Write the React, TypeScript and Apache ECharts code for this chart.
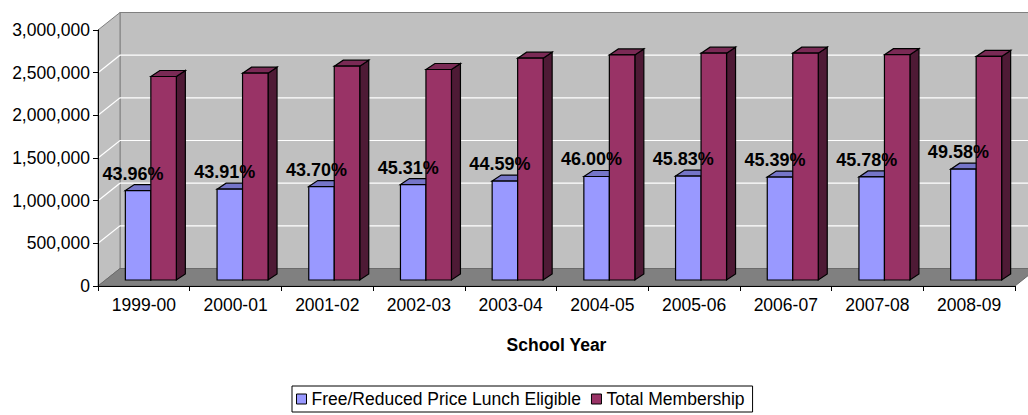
import React, { useEffect, useRef } from "react";
import * as echarts from "echarts";

const categories = ["1999-00", "2000-01", "2001-02", "2002-03", "2003-04", "2004-05", "2005-06", "2006-07", "2007-08", "2008-09"];
const totalMembership = [2385000, 2424000, 2506000, 2467000, 2600000, 2638000, 2658000, 2658000, 2640000, 2620000];
const freeReduced = [1048000, 1064000, 1095000, 1118000, 1159000, 1213000, 1218000, 1206000, 1208000, 1299000];
const pctLabels = ["43.96%", "43.91%", "43.70%", "45.31%", "44.59%", "46.00%", "45.83%", "45.39%", "45.78%", "49.58%"];
const yMin = 0;
const yMax = 3000000;
const yStep = 500000;
const gridValues = [500000, 1000000, 1500000, 2000000, 2500000];

const FONT = "'Liberation Sans', Arial, sans-serif";
const WX = 22; // wall depth
const WY = -17.5;
const OX = 7; // bar plane offset
const OY = -6;
const DX = 9; // bar depth
const DY = -6;
const BAR_RATIO = 0.278;

function barRenderer(kind: "free" | "total") {
  const front = kind === "free" ? "#9999ff" : "#993366";
  const topC = kind === "free" ? "#7575c8" : "#7a2a55";
  const sideC = kind === "free" ? "#5a5a99" : "#4e1a35";
  return (params: any, api: any) => {
    const i = api.value(0);
    const v = api.value(1);
    const base = api.coord([i, 0]);
    const top = api.coord([i, v]);
    const band = api.size([1, 0])[0];
    const bw = band * BAR_RATIO;
    const cx = base[0] + OX;
    const L = kind === "free" ? cx - bw : cx;
    const R = L + bw;
    const B = base[1] + OY;
    const T = top[1] + OY;
    const stroke = { stroke: "#000", lineWidth: 1.2 };
    return {
      type: "group",
      children: [
        {
          type: "polygon",
          shape: { points: [[R, T], [R + DX, T + DY], [R + DX, B + DY], [R, B]] },
          style: { fill: sideC, ...stroke },
        },
        {
          type: "polygon",
          shape: { points: [[L, T], [L + DX, T + DY], [R + DX, T + DY], [R, T]] },
          style: { fill: topC, ...stroke },
        },
        {
          type: "rect",
          shape: { x: L, y: T, width: bw, height: B - T },
          style: { fill: front, ...stroke },
        },
      ],
    };
  };
}

function labelRenderer(params: any, api: any) {
  const i = api.value(0);
  const v = api.value(1);
  const idx = api.value(2);
  const base = api.coord([i, 0]);
  const top = api.coord([i, v]);
  const band = api.size([1, 0])[0];
  const bw = band * BAR_RATIO;
  const cx = base[0] + OX - bw / 2;
  const T = top[1] + OY;
  return {
    type: "text",
    x: cx - 5,
    y: T - 8,
    style: {
      text: pctLabels[idx],
      fill: "#000",
      font: `bold 18px ${FONT}`,
      textAlign: "center",
      textVerticalAlign: "bottom",
    },
  };
}

function frameRenderer(params: any, api: any) {
  const cs = params.coordSys;
  const x0 = cs.x;
  const x1 = cs.x + cs.width;
  const yt = cs.y;
  const yb = cs.y + cs.height;
  const children: any[] = [];
  children.push({
    type: "polygon",
    shape: { points: [[x0 + WX, yt + WY], [x1 + WX, yt + WY], [x1 + WX, yb + WY], [x0 + WX, yb + WY]] },
    style: { fill: "#c0c0c0", stroke: "#808080", lineWidth: 1 },
  });
  children.push({
    type: "polygon",
    shape: { points: [[x0, yb], [x0, yt], [x0 + WX, yt + WY], [x0 + WX, yb + WY]] },
    style: { fill: "#c0c0c0", stroke: "#808080", lineWidth: 1 },
  });
  gridValues.forEach((v) => {
    const y = api.coord([0, v])[1];
    children.push({
      type: "polyline",
      shape: { points: [[x0, y], [x0 + WX, y + WY], [x1 + WX, y + WY]] },
      style: { stroke: "#ffffff", lineWidth: 1.2, fill: null },
    });
  });
  children.push({
    type: "polygon",
    shape: { points: [[x0, yb], [x0 + WX, yb + WY], [x1 + WX, yb + WY], [x1, yb]] },
    style: { fill: "#808080", stroke: "#6a6a6a", lineWidth: 1 },
  });
  return { type: "group", children };
}

export default function App() {
  const ref = useRef<HTMLDivElement>(null);
  useEffect(() => {
    if (!ref.current) return;
    const chart = echarts.init(ref.current, undefined, { renderer: "svg" });
    chart.setOption({
      animation: false,
      backgroundColor: "#ffffff",
      textStyle: { fontFamily: FONT },
      grid: { left: 98, right: 13, top: 30, bottom: 129 },
      legend: {
        left: 292,
        top: 386,
        orient: "horizontal",
        icon: "rect",
        itemWidth: 10,
        itemHeight: 10,
        itemGap: 10,
        padding: [4, 8, 4, 4],
        borderColor: "#000",
        borderWidth: 1,
        borderRadius: 0,
        textStyle: { fontSize: 17.5, color: "#000", fontFamily: FONT },
        data: [
          { name: "Free/Reduced Price Lunch Eligible", itemStyle: { color: "#9999ff", borderColor: "#000", borderWidth: 1 } },
          { name: "Total Membership", itemStyle: { color: "#993366", borderColor: "#000", borderWidth: 1 } },
        ],
      },
      xAxis: {
        type: "category",
        data: categories,
        z: 5,
        boundaryGap: true,
        axisLine: { show: true, lineStyle: { color: "#000", width: 1 } },
        axisTick: { show: true, length: 5, lineStyle: { color: "#000" } },
        axisLabel: { color: "#000", fontSize: 17.5, fontFamily: FONT, margin: 10 },
        name: "School Year",
        nameLocation: "middle",
        nameGap: 50,
        nameTextStyle: { color: "#000", fontSize: 17.5, fontWeight: "bold", fontFamily: FONT },
        splitLine: { show: false },
      },
      yAxis: {
        type: "value",
        min: yMin,
        max: yMax,
        interval: yStep,
        z: 5,
        axisLine: { show: true, lineStyle: { color: "#000", width: 1 } },
        axisTick: { show: true, length: 5, lineStyle: { color: "#000" } },
        axisLabel: {
          color: "#000",
          fontSize: 17.5,
          fontFamily: FONT,
          margin: 8,
          formatter: (v: number) => v.toLocaleString("en-US"),
        },
        splitLine: { show: false },
      },
      series: [
        {
          type: "custom",
          name: "frame",
          z: 1,
          silent: true,
          renderItem: frameRenderer,
          data: [[0, 0]],
          clip: false,
        },
        {
          type: "custom",
          name: "Free/Reduced Price Lunch Eligible",
          z: 2,
          itemStyle: { color: "#9999ff", borderColor: "#000", borderWidth: 1 },
          renderItem: barRenderer("free"),
          data: categories.map((c, i) => [i, freeReduced[i], i]),
          encode: { x: 0, y: 1 },
        },
        {
          type: "custom",
          name: "Total Membership",
          z: 3,
          itemStyle: { color: "#993366", borderColor: "#000", borderWidth: 1 },
          renderItem: barRenderer("total"),
          data: categories.map((c, i) => [i, totalMembership[i], i]),
          encode: { x: 0, y: 1 },
        },
        {
          type: "custom",
          name: "pct-labels",
          z: 4,
          silent: true,
          renderItem: labelRenderer,
          data: categories.map((c, i) => [i, freeReduced[i], i]),
          encode: { x: 0, y: 1 },
        },
      ],
    });
    return () => chart.dispose();
  }, []);
  return (
    <div
      ref={ref}
      style={{ position: "fixed", left: 0, top: 0, width: 1028, height: 415, background: "#fff" }}
    />
  );
}
